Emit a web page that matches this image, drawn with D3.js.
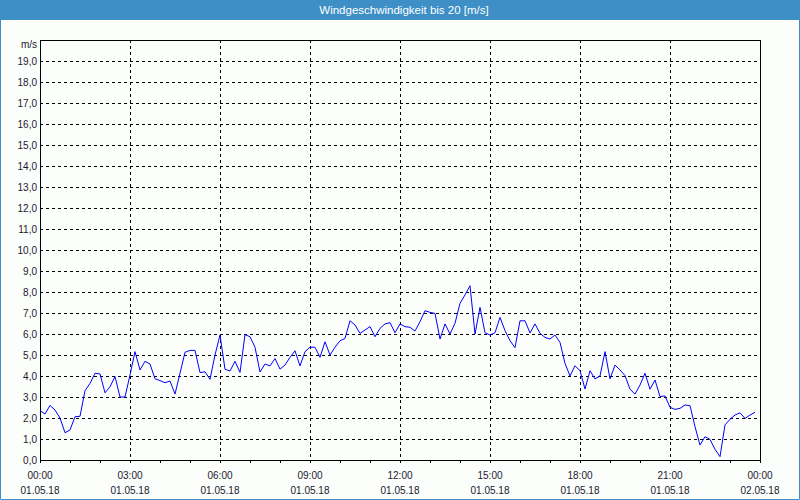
<!DOCTYPE html>
<html>
<head>
<meta charset="utf-8">
<script src="https://cdnjs.cloudflare.com/ajax/libs/d3/7.8.5/d3.min.js"></script>
<style>
  html, body { margin: 0; padding: 0; background: #fcfefc; }
  svg { display: block; }
</style>
</head>
<body>
<svg id="chart" width="800" height="500"></svg>
<script>
// ---- Data ----
const chartTitle = "Windgeschwindigkeit bis 20 [m/s]";
const unitLabel = "m/s";
const startTime = "2018-05-01T00:00:00";
const endTime = "2018-05-02T00:00:00";
const sampleMinutes = 10;
// wind speed in m/s, one value every 10 minutes from 00:00 to 23:50
const windSpeed = [
  2.35, 2.19, 2.60, 2.38, 2.00, 1.30, 1.43, 2.06, 2.08, 3.30,
  3.65, 4.13, 4.10, 3.20, 3.49, 3.97, 3.00, 3.00, 4.05, 5.16,
  4.29, 4.70, 4.57, 3.87, 3.78, 3.68, 3.76, 3.14, 4.13, 5.13,
  5.22, 5.22, 4.16, 4.20, 3.84, 5.00, 5.95, 4.32, 4.24, 4.70,
  4.17, 5.97, 5.87, 5.37, 4.19, 4.57, 4.48, 4.83, 4.33, 4.52,
  4.89, 5.20, 4.48, 5.16, 5.37, 5.37, 4.89, 5.63, 5.00, 5.37,
  5.68, 5.79, 6.63, 6.43, 6.03, 6.19, 6.35, 5.87, 6.27, 6.48,
  6.54, 6.06, 6.48, 6.35, 6.32, 6.14, 6.59, 7.11, 7.03, 6.98,
  5.76, 6.48, 6.00, 6.51, 7.46, 7.86, 8.30, 6.00, 7.27, 6.06,
  5.95, 6.06, 6.79, 6.16, 5.68, 5.35, 6.63, 6.63, 6.05, 6.48,
  6.03, 5.84, 5.76, 5.95, 5.60, 4.60, 4.00, 4.49, 4.25, 3.38,
  4.25, 3.86, 4.00, 5.16, 3.86, 4.52, 4.29, 4.02, 3.37, 3.14,
  3.57, 4.13, 3.37, 3.81, 3.02, 3.05, 2.51, 2.41, 2.46, 2.62,
  2.59, 1.59, 0.71, 1.11, 0.98, 0.51, 0.16, 1.67, 1.94, 2.14,
  2.25, 1.98, 2.14, 2.27
];
const yMin = 0, yMax = 20;
const yTickValues = [0,1,2,3,4,5,6,7,8,9,10,11,12,13,14,15,16,17,18,19];
const xLabelHours = 3;   // labelled ticks every 3 hours
const xMinorHours = 1;   // small ticks every hour

// ---- Layout ----
const W = 800, H = 500;
const plot = { left: 40, top: 40, right: 760, bottom: 460 };
const blue = "#3d8fc6";

const svg = d3.select("#chart");
const parse = d3.timeParse("%Y-%m-%dT%H:%M:%S");
const t0 = parse(startTime), t1 = parse(endTime);
const data = windSpeed.map((v, i) => ({ t: d3.timeMinute.offset(t0, i * sampleMinutes), v }));

const x = d3.scaleTime().domain([t0, t1]).range([plot.left, plot.right]);
const y = d3.scaleLinear().domain([yMin, yMax]).range([plot.bottom, plot.top]);

// background
svg.append("rect").attr("width", W).attr("height", H).attr("fill", "#fcfefc");

// title bar
svg.append("rect").attr("x", 0).attr("y", 0).attr("width", W).attr("height", 20).attr("fill", blue);
svg.append("text").attr("x", 404).attr("y", 14)
  .attr("text-anchor", "middle")
  .attr("font-family", "Liberation Sans, Arial, sans-serif")
  .attr("font-size", "11.5px")
  .attr("fill", "#ffffff")
  .text(chartTitle);

// outer border
svg.append("path")
  .attr("d", `M0.5,20 V${H - 0.5} H${W - 0.5} V20`)
  .attr("fill", "none").attr("stroke", blue).attr("stroke-width", 1);

const font = "Liberation Sans, Arial, sans-serif";
const textColor = "#1a1a2e";

// horizontal grid
const hTicks = yTickValues.filter(v => v > yMin && v < yMax);
svg.append("g").selectAll("line").data(hTicks).join("line")
  .attr("x1", plot.left).attr("x2", plot.right)
  .attr("y1", d => Math.round(y(d)) + 0.5).attr("y2", d => Math.round(y(d)) + 0.5)
  .attr("stroke", "#000").attr("stroke-width", 1).attr("stroke-dasharray", "3,3")
  .attr("shape-rendering", "crispEdges");

// vertical grid
const labelTicks = d3.timeHour.every(xLabelHours).range(t0, d3.timeMinute.offset(t1, 1));
const vTicks = labelTicks.filter(d => d > t0 && d < t1);
svg.append("g").selectAll("line").data(vTicks).join("line")
  .attr("x1", d => Math.round(x(d)) + 0.5).attr("x2", d => Math.round(x(d)) + 0.5)
  .attr("y1", plot.top).attr("y2", plot.bottom)
  .attr("stroke", "#000").attr("stroke-width", 1).attr("stroke-dasharray", "3,3")
  .attr("shape-rendering", "crispEdges");

// y axis labels
const yAxis = d3.axisLeft(y).tickValues(yTickValues).tickSize(0).tickPadding(3)
  .tickFormat(d => d3.format(".1f")(d).replace(".", ","));
const gy = svg.append("g").attr("transform", `translate(${plot.left},0)`).call(yAxis);
gy.select(".domain").remove();
gy.selectAll("text").attr("font-family", font).attr("font-size", "10px").attr("fill", textColor);

// unit label
svg.append("text").attr("x", plot.left - 3).attr("y", 48)
  .attr("text-anchor", "end")
  .attr("font-family", font).attr("font-size", "10px").attr("fill", textColor)
  .text(unitLabel);

// x axis: minor ticks every hour
const xAxis = d3.axisBottom(x).ticks(d3.timeHour.every(xMinorHours)).tickSize(3).tickFormat("");
const gx = svg.append("g").attr("transform", `translate(0,${plot.bottom})`).call(xAxis);
gx.select(".domain").remove();
gx.selectAll("line").attr("stroke", "#000").attr("shape-rendering", "crispEdges");

// x labels (two lines)
const fmtTime = d3.timeFormat("%H:%M");
const fmtDate = d3.timeFormat("%d.%m.%y");
const xl = svg.append("g").selectAll("g").data(labelTicks).join("g")
  .attr("transform", d => `translate(${x(d)},0)`);
xl.append("text").attr("y", 479).attr("text-anchor", "middle")
  .attr("font-family", font).attr("font-size", "10px").attr("fill", textColor)
  .text(d => fmtTime(d));
xl.append("text").attr("y", 494).attr("text-anchor", "middle")
  .attr("font-family", font).attr("font-size", "10px").attr("fill", textColor)
  .text(d => fmtDate(d));

// plot frame
svg.append("rect")
  .attr("x", plot.left + 0.5).attr("y", plot.top + 0.5)
  .attr("width", plot.right - plot.left).attr("height", plot.bottom - plot.top)
  .attr("fill", "none").attr("stroke", "#000").attr("stroke-width", 1)
  .attr("shape-rendering", "crispEdges");

// line
const line = d3.line().x(d => x(d.t)).y(d => y(d.v));
svg.append("path").datum(data)
  .attr("d", line)
  .attr("fill", "none").attr("stroke", "#0000ff").attr("stroke-width", 1);
</script>
</body>
</html>
